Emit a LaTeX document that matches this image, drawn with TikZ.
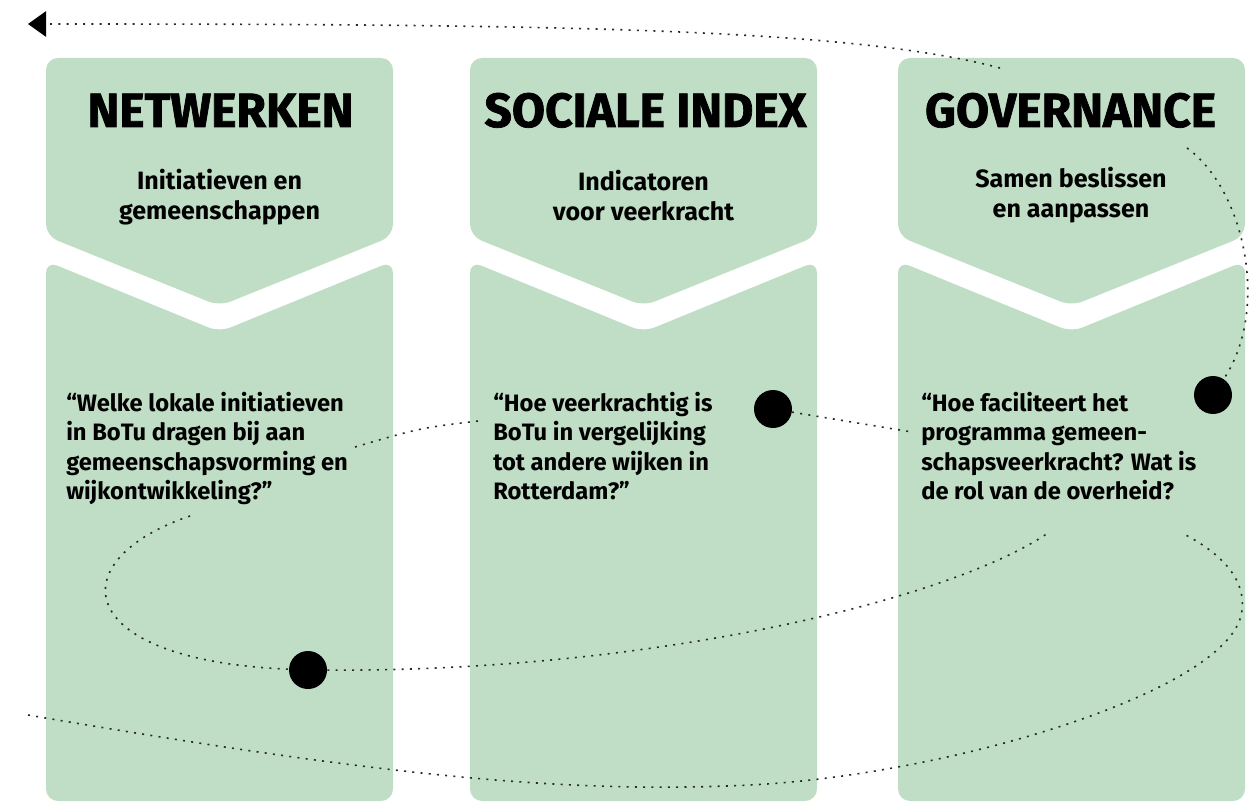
\documentclass[tikz,border=0pt]{standalone}
\usepackage{fontspec}
\setmainfont{Fira Sans}
\newfontfamily\headfont{Fira Sans}[BoldFeatures={FakeBold=1.5}]
\usetikzlibrary{arrows.meta}
\definecolor{colgreen}{RGB}{191,222,197}
\definecolor{dotgray}{RGB}{40,40,40}

\begin{document}
\begin{tikzpicture}[x=0.75pt,y=0.75pt,yscale=-1,xscale=1,
  panel/.style={fill=colgreen,draw=none,rounded corners=9pt},
  title/.style={font=\headfont\fontsize{36}{40}\selectfont\bfseries,anchor=base,inner sep=0.75pt},
  subtitle/.style={font=\fontsize{18.8}{22.5}\selectfont\bfseries,align=center,inner sep=0.75pt},
  question/.style={font=\fontsize{17.8}{22.1}\selectfont\bfseries,align=left,anchor=north west,inner sep=0pt},
  bullet/.style={circle,fill=black,inner sep=0pt,minimum size=28.5pt},
  dotline/.style={draw=dotgray,line width=1.2pt,dash pattern=on 1.5pt off 4.7pt}]
\useasboundingbox (0,0) rectangle (1253,802);

%Shape: Header NETWERKEN
\path [panel] (46,58) -- (393,58) -- (393,236) -- (219.5,306) -- (46,236) -- cycle ;
%Shape: Body NETWERKEN
\path [panel] (46,261) -- (219.5,332) -- (393,261) -- (393,801) -- (46,801) -- cycle ;
%Shape: Header SOCIALE INDEX
\path [panel] (470,58) -- (817,58) -- (817,236) -- (643.5,306) -- (470,236) -- cycle ;
%Shape: Body SOCIALE INDEX
\path [panel] (470,261) -- (643.5,332) -- (817,261) -- (817,801) -- (470,801) -- cycle ;
%Shape: Header GOVERNANCE
\path [panel] (898,58) -- (1245,58) -- (1245,236) -- (1071.5,306) -- (898,236) -- cycle ;
%Shape: Body GOVERNANCE
\path [panel] (898,261) -- (1071.5,332) -- (1245,261) -- (1245,801) -- (898,801) -- cycle ;

% Text Node
\node [title] (netw) at (220.5,127) {NETWERKEN};
% Text Node
\node [title] (soc) at (645.5,127) {SOCIALE INDEX};
% Text Node
\node [title] (gov) at (1070.5,127) {GOVERNANCE};
% Text Node
\node [subtitle] (netwsub) at (219.5,197) {Initiatieven en\\gemeenschappen};
% Text Node
\node [subtitle] (socsub) at (643.5,196) {Indicatoren\\voor veerkracht};
% Text Node
\node [subtitle] (govsub) at (1071,195) {Samen beslissen\\en aanpassen};
% Text Node
\node [question] (netwq) at (66,392) {“Welke lokale initiatieven\\in BoTu dragen bij aan\\gemeenschapsvorming en\\wijkontwikkeling?”};
% Text Node
\node [question] (socq) at (493,392) {“Hoe veerkrachtig is\\BoTu in vergelijking\\tot andere wijken in\\Rotterdam?”};
% Text Node
\node [question] (govq) at (921,392) {“Hoe faciliteert het\\programma gemeen-\\schapsveerkracht? Wat is\\de rol van de overheid?};

%Shape: Circles
\node [bullet] (dotnetw) at (308,670) {};
\node [bullet] (dotsoc) at (773,409) {};
\node [bullet] (dotgov) at (1213,395) {};

% free ends of the dotted lines
\coordinate (tip) at (28,24);
\coordinate (govtop) at (1000,68);
\coordinate (govright) at (1187,148);
\coordinate (govqw) at (912,432);
\coordinate (socqw) at (478,421);
\coordinate (netwqe) at (355,447);
\coordinate (netwqs) at (190,516);
\coordinate (govqs) at (1048,533);
\coordinate (govqse) at (1182,533);
\coordinate (leftend) at (28,715);
\coordinate (lowmid) at (750,785);
\coordinate (lowright) at (1242,610);

%Curve Lines
\draw [dotline,-{Triangle[length=13.5pt,width=19pt,fill=black,color=black,sep=0pt]}] (govtop) .. controls (850,28) and (550,24) .. (tip) ;
\draw [dotline] (govright) .. controls (1245,190) and (1270,310) .. (dotgov) ;
\draw [dotline] (dotsoc) -- (govqw) ;
\draw [dotline] (socqw) .. controls (420,428) .. (netwqe) ;
\draw [dotline] (netwqs) .. controls (60,560) and (70,660) .. (dotnetw) ;
\draw [dotline] (dotnetw) .. controls (650,672) and (950,600) .. (govqs) ;
\draw [dotline] (leftend) .. controls (350,770) and (550,795) .. (lowmid) .. controls (950,775) and (1235,690) .. (lowright) .. controls (1246,575) and (1215,550) .. (govqse) ;

\end{tikzpicture}
\end{document}
